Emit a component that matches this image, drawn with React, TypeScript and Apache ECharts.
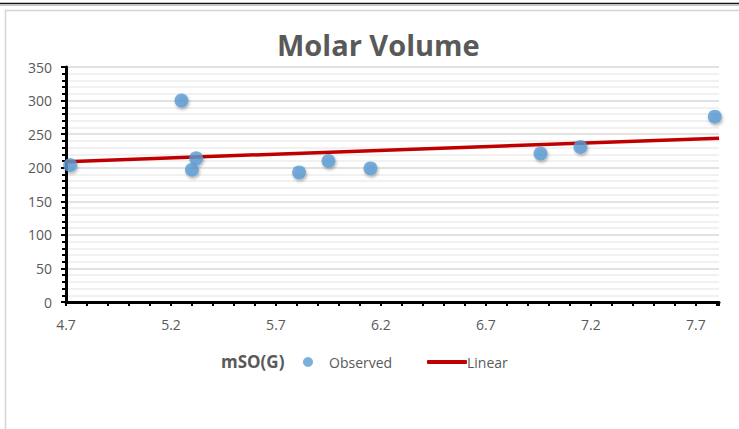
import React, { useEffect, useRef } from "react";
import * as echarts from "echarts";

const xObserved = [4.72, 5.25, 5.32, 5.3, 5.81, 5.95, 6.15, 6.96, 7.15, 7.79];
const yObserved = [204, 300, 214, 197, 193, 210, 199, 221, 231, 276];
const xLinear = [4.7, 7.81];
const yLinear = [209, 244];
const xMin = 4.7;
const xMax = 7.81;
const yTicks = [0, 50, 100, 150, 200, 250, 300, 350];

const GREY = "#595959";
const FONT = "'Open Sans', 'DejaVu Sans', sans-serif";

export default function App() {
  const ref = useRef<HTMLDivElement>(null);
  useEffect(() => {
    document.body.style.margin = "0";
    const chart = echarts.init(ref.current!, null, { renderer: "svg" });
    const shift = (v: number) => +(v - xMin).toFixed(4);
    const option: any = {
      animation: false,
      backgroundColor: "#fff",
      title: {
        text: "Molar Volume",
        left: 277,
        top: 30,
        padding: 0,
        textStyle: { fontSize: 29, fontWeight: "bold", color: GREY, fontFamily: FONT },
      },
      grid: { left: 66, right: 20, top: 67, bottom: 127 },
      xAxis: {
        type: "value",
        min: 0,
        max: shift(xMax),
        interval: 0.5,
        axisLine: { show: true, onZero: false, lineStyle: { color: "#000", width: 3 } },
        axisTick: { show: true, length: 4, lineStyle: { color: "#000", width: 2 } },
        minorTick: { show: true, splitNumber: 5, length: 4, lineStyle: { color: "#000", width: 2 } },
        splitLine: { show: false },
        axisLabel: {
          margin: 15,
          color: GREY,
          fontSize: 14,
          fontFamily: FONT,
          showMaxLabel: false,
          formatter: (v: number) => (v + xMin).toFixed(1),
        },
      },
      yAxis: {
        type: "value",
        min: yTicks[0],
        max: yTicks[yTicks.length - 1],
        interval: 50,
        axisLine: { show: true, lineStyle: { color: "#000", width: 3 } },
        axisTick: { show: true, length: 5, lineStyle: { color: "#000", width: 2 } },
        minorTick: { show: true, splitNumber: 5, length: 4, lineStyle: { color: "#000", width: 2 } },
        splitLine: { show: true, lineStyle: { color: "#d9d9d9", width: 1.5 } },
        minorSplitLine: { show: true, lineStyle: { color: "#ececec", width: 1.5 } },
        axisLabel: { margin: 14, color: GREY, fontSize: 14, fontFamily: FONT },
      },
      legend: [
        {
          left: 303,
          top: 355,
          padding: 0,
          itemWidth: 10,
          itemHeight: 10,
          data: [{ name: "Observed", icon: "circle" }],
          textStyle: { color: GREY, fontSize: 14, fontFamily: FONT, padding: [0, 0, 0, 11] },
        },
        {
          left: 427,
          top: 355,
          padding: 0,
          itemWidth: 40,
          itemHeight: 4,
          data: [{ name: "Linear", icon: "roundRect" }],
          textStyle: { color: GREY, fontSize: 14, fontFamily: FONT, padding: [0, 0, 0, -5] },
        },
      ],
      graphic: [
        { type: "line", shape: { x1: 0, y1: 3.5, x2: 739, y2: 3.5 }, style: { stroke: "#111", lineWidth: 1.6 } },
        { type: "line", shape: { x1: 0, y1: 5.5, x2: 739, y2: 5.5 }, style: { stroke: "#c8c8c8", lineWidth: 1 } },
        {
          type: "rect",
          shape: { x: 5.5, y: 10.5, width: 800, height: 500 },
          style: { fill: "none", stroke: "#d4d4d4", lineWidth: 1.5 },
          silent: true,
        },
        {
          type: "text",
          left: 221,
          top: 353,
          style: { text: "mSO(G)", fontSize: 17, fontWeight: "bold", fill: GREY, fontFamily: FONT },
        },
      ],
      series: [
        {
          name: "Observed",
          type: "scatter",
          symbol: "circle",
          symbolSize: 14,
          data: xObserved.map((x, i) => [shift(x), yObserved[i]]),
          itemStyle: {
            color: "#5b9bd5",
            shadowBlur: 3,
            shadowColor: "rgba(0,0,0,0.35)",
            shadowOffsetX: 1,
            shadowOffsetY: 2,
          },
          z: 3,
        },
        {
          name: "Linear",
          type: "line",
          showSymbol: false,
          symbol: "none",
          data: xLinear.map((x, i) => [shift(x), yLinear[i]]),
          lineStyle: { color: "#c00000", width: 3.5 },
          itemStyle: { color: "#c00000" },
          z: 2,
        },
      ],
    };
    chart.setOption(option);
    return () => chart.dispose();
  }, []);
  return <div ref={ref} style={{ width: 739, height: 429 }} />;
}
